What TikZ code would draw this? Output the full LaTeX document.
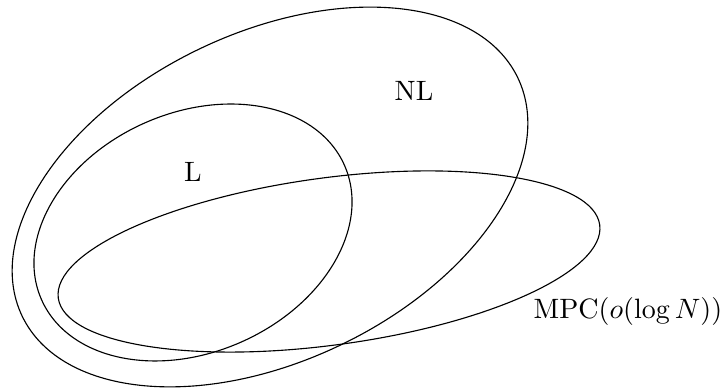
\documentclass[tikz,border=0pt]{standalone}
\tikzset{
    classset/.style={draw=black, thin},
    classname/.style={inner sep=0}
}

\begin{document}
\begin{tikzpicture}[x=0.357pt, y=0.357pt]
    \useasboundingbox (0,0) rectangle (722,389);
    % the three classes
    \draw[classset, rotate around={25.7:(270,192)}] (270,192) ellipse [x radius=275, y radius=164];
    \draw[classset, rotate around={24:(193,156.5)}] (193,156.5) ellipse [x radius=165.7, y radius=119.7];
    \draw[classset, rotate around={7.7:(329,127.5)}] (329,127.5) ellipse [x radius=273.2, y radius=83.6];
    \node[classname] (nl) at (414,298) {NL};
    \node[classname] (l) at (193,217) {L};
    \node[classname] (mpc) at (628,77) {$\mathrm{MPC}(o(\log N))$};
\end{tikzpicture}
\end{document}
